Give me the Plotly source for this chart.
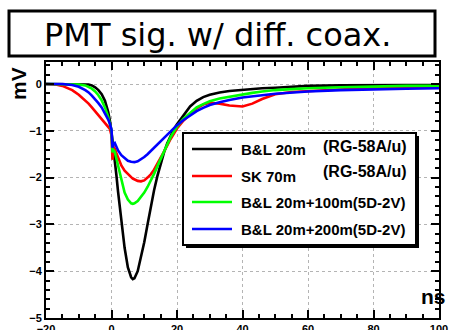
import plotly.graph_objects as go

# ---- data ----
t_ns = [-20, -17, -15, -12, -10, -8, -7, -6, -5, -4, -3, -2, -1, -0.5, 0, 0.3, 0.6, 1, 1.5, 2, 3, 4, 5, 6, 6.5,
        7, 8, 9, 10, 11, 12, 13, 14, 15, 16, 17, 18, 19, 20, 22, 24, 26, 28, 30, 33, 36, 40, 43, 46, 50,
        55, 60, 70, 80, 90, 100]

bl20 = [0, 0, 0, 0, 0, 0, -0.01, -0.03, -0.07, -0.13, -0.22, -0.36, -0.6, -0.78, -1.0, -1.2, -1.4, -1.62, -1.95,
        -2.3, -2.95, -3.5, -3.92, -4.13, -4.17, -4.15, -4.0, -3.72, -3.38, -3.0, -2.62, -2.27, -1.97, -1.7,
        -1.47, -1.27, -1.1, -0.97, -0.86, -0.66, -0.48, -0.36, -0.28, -0.23, -0.18, -0.15, -0.12, -0.1,
        -0.09, -0.08, -0.06, -0.04, -0.03, -0.02, -0.02, -0.02]

sk70 = [0, -0.01, -0.04, -0.13, -0.23, -0.35, -0.42, -0.5, -0.58, -0.66, -0.74, -0.82, -0.9, -0.96, -1.1,
        -1.62, -1.35, -1.38, -1.48, -1.58, -1.74, -1.85, -1.93, -1.99, -2.02, -2.04, -2.07, -2.08, -2.06,
        -2.0, -1.93, -1.83, -1.71, -1.58, -1.45, -1.32, -1.18, -1.06, -0.95, -0.78, -0.64, -0.52, -0.44,
        -0.4, -0.42, -0.46, -0.48, -0.42, -0.32, -0.22, -0.17, -0.15, -0.12, -0.08, -0.07, -0.06]

bl120 = [0, 0, 0, 0, -0.01, -0.03, -0.06, -0.1, -0.16, -0.24, -0.35, -0.5, -0.7, -0.83, -1.0, -1.46, -1.4,
         -1.45, -1.6, -1.78, -2.08, -2.32, -2.47, -2.55, -2.56, -2.55, -2.5, -2.42, -2.32, -2.2, -2.07,
         -1.92, -1.76, -1.6, -1.44, -1.28, -1.14, -1.02, -0.91, -0.74, -0.61, -0.5, -0.43, -0.37, -0.31,
         -0.27, -0.22, -0.19, -0.16, -0.13, -0.11, -0.09, -0.07, -0.05, -0.04, -0.04]

bl220 = [0, 0, 0, -0.02, -0.06, -0.13, -0.18, -0.25, -0.32, -0.41, -0.5, -0.62, -0.76, -0.85, -0.97, -1.36,
         -1.28, -1.26, -1.33, -1.42, -1.52, -1.59, -1.64, -1.66, -1.67, -1.67, -1.65, -1.61, -1.56, -1.5,
         -1.43, -1.36, -1.28, -1.21, -1.14, -1.07, -1.0, -0.94, -0.88, -0.77, -0.67, -0.58, -0.51, -0.45,
         -0.39, -0.34, -0.29, -0.26, -0.24, -0.21, -0.18, -0.16, -0.13, -0.11, -0.1, -0.09]

series_names = ["B&L 20m", "SK 70m", "B&L 20m+100m(5D-2V)", "B&L 20m+200m(5D-2V)"]
series_notes = ["(RG-58A/u)", "(RG-58A/u)", "", ""]
series_colors = ["#000000", "#ff0000", "#00ff00", "#0000ff"]
series_values = [bl20, sk70, bl120, bl220]

title_text = "PMT sig. w/ diff. coax."
x_title = "ns"
y_title = "mV"

# ---- geometry helpers (pixel -> paper) ----
W, H = 450, 330
L, R, T, B = 46, 11, 62, 12
PW, PH = W - L - R, H - T - B


def px(x):
    return (x - L) / PW


def py(y):
    return (H - B - y) / PH


fig = go.Figure()
for name, col, vals in zip(series_names, series_colors, series_values):
    fig.add_trace(go.Scatter(x=t_ns, y=vals, mode="lines", name=name, showlegend=False,
                             line=dict(color=col, width=2.6)))

shapes = []
annotations = []

# title box
shapes.append(dict(type="rect", xref="paper", yref="paper", x0=px(9), x1=px(435), y0=py(56), y1=py(11),
                   line=dict(color="black", width=3), fillcolor="white", layer="above"))
annotations.append(dict(text=title_text, xref="paper", yref="paper", x=px(217), y=py(35), showarrow=False,
                        xanchor="center", yanchor="middle",
                        font=dict(family="DejaVu Sans", size=32, color="black")))

# legend box with shadow
shapes.append(dict(type="rect", xref="paper", yref="paper", x0=px(186), x1=px(419), y0=py(248), y1=py(136),
                   line=dict(color="black", width=0), fillcolor="black", layer="above"))
shapes.append(dict(type="rect", xref="paper", yref="paper", x0=px(183), x1=px(416), y0=py(245), y1=py(133),
                   line=dict(color="black", width=2), fillcolor="white", layer="above"))
row_y = [149, 176, 202, 229]
note_y = [146, 171]
for i, (name, col) in enumerate(zip(series_names, series_colors)):
    shapes.append(dict(type="line", xref="paper", yref="paper", x0=px(192), x1=px(232), y0=py(row_y[i]),
                       y1=py(row_y[i]), line=dict(color=col, width=2.6), layer="above"))
    annotations.append(dict(text=name, xref="paper", yref="paper", x=px(239), y=py(row_y[i]), showarrow=False,
                            xanchor="left", yanchor="middle",
                            font=dict(family="Liberation Sans", size=15, color="black", weight="bold")))
    if series_notes[i]:
        annotations.append(dict(text=series_notes[i], xref="paper", yref="paper", x=px(409), y=py(note_y[i]),
                                showarrow=False, xanchor="right", yanchor="middle",
                                font=dict(family="Liberation Sans", size=16, color="black", weight="bold")))

# axis titles
annotations.append(dict(text=y_title, xref="paper", yref="paper", x=px(18), y=py(84), showarrow=False,
                        textangle=-90, xanchor="center", yanchor="middle",
                        font=dict(family="Liberation Sans", size=21, color="black", weight="bold")))
annotations.append(dict(text=x_title, xref="paper", yref="paper", x=px(433), y=py(296), showarrow=False,
                        xanchor="center", yanchor="middle",
                        font=dict(family="Liberation Sans", size=21, color="black", weight="bold")))

tickfont = dict(family="Liberation Sans", size=11, color="black", weight="bold")
fig.update_layout(
    width=W, height=H, margin=dict(l=L, r=R, t=T, b=B, autoexpand=False),
    paper_bgcolor="white", plot_bgcolor="white",
    shapes=shapes, annotations=annotations, showlegend=False,
    xaxis=dict(range=[-20, 100], tick0=0, dtick=20, ticks="inside", ticklen=8, tickwidth=2, tickcolor="black",
               showline=True, linecolor="black", linewidth=2, mirror="ticks", automargin=False,
               ticklabelstandoff=0,
               showgrid=True, gridcolor="#b4b4b4", griddash="dot", gridwidth=1, zeroline=False,
               tickfont=tickfont,
               minor=dict(dtick=5, ticks="inside", ticklen=4, tickwidth=2, tickcolor="black", showgrid=False)),
    yaxis=dict(range=[-5, 0.47], tick0=0, dtick=1, ticks="inside", ticklen=8, tickwidth=2, tickcolor="black",
               showline=True, linecolor="black", linewidth=2, mirror="ticks", automargin=False,
               showgrid=True, gridcolor="#b4b4b4", griddash="dot", gridwidth=1, zeroline=False,
               tickfont=tickfont,
               minor=dict(dtick=0.2, ticks="inside", ticklen=4, tickwidth=2, tickcolor="black", showgrid=False)),
)

fig.write_html("out.html", config={"displayModeBar": False},
               post_script="document.body.style.margin='0';document.body.style.overflow='hidden';")
